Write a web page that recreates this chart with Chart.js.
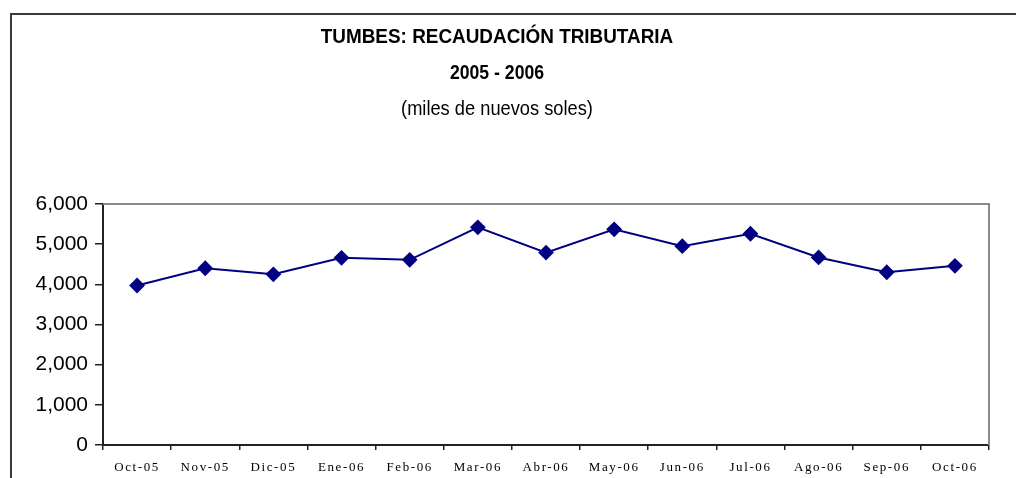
<!DOCTYPE html>
<html><head><meta charset="utf-8">
<script src="https://cdn.jsdelivr.net/npm/chart.js@4/dist/chart.umd.min.js"></script>
<style>
html,body{margin:0;padding:0;background:#fff;overflow:hidden}
#wrap{position:relative;width:1016px;height:478px}
#frame{position:absolute;left:10px;top:13px;width:1100px;height:600px;border-left:2px solid #3a3a3a;border-top:2px solid #3a3a3a;pointer-events:none}
canvas{position:absolute;left:0;top:0}
</style></head>
<body><div id="wrap"><canvas id="c" width="1016" height="478"></canvas><div id="frame"></div></div>
<script>
const categories = ['Oct-05','Nov-05','Dic-05','Ene-06','Feb-06','Mar-06','Abr-06','May-06','Jun-06','Jul-06','Ago-06','Sep-06','Oct-06'];
const recaudacion = [3970, 4400, 4250, 4660, 4610, 5420, 4790, 5370, 4950, 5260, 4670, 4300, 4460];
const yTickValues = [0, 1000, 2000, 3000, 4000, 5000, 6000];
const titleLines = ['TUMBES: RECAUDACIÓN TRIBUTARIA', '2005 - 2006', '(miles de nuevos soles)'];

const titlePlugin = {
  id: 'titles',
  afterDraw(chart) {
    const ctx = chart.ctx;
    const fam = "'Liberation Sans',Arial,sans-serif";
    const specs = [
      { text: titleLines[0], font: 'bold 21px ' + fam, y: 43, sx: 0.9 },
      { text: titleLines[1], font: 'bold 21px ' + fam, y: 79, sx: 0.84 },
      { text: titleLines[2], font: '21px ' + fam, y: 115, sx: 0.87 }
    ];
    ctx.save();
    ctx.fillStyle = '#000';
    ctx.textAlign = 'center';
    ctx.textBaseline = 'alphabetic';
    specs.forEach(s => {
      ctx.save();
      ctx.font = s.font;
      ctx.translate(497, s.y);
      ctx.scale(s.sx, 1);
      ctx.fillText(s.text, 0, 0);
      ctx.restore();
    });
    const a = chart.chartArea;
    ctx.strokeStyle = '#8a8a8a';
    ctx.lineWidth = 2;
    ctx.beginPath();
    ctx.moveTo(a.left, a.top);
    ctx.lineTo(a.right, a.top);
    ctx.lineTo(a.right, a.bottom);
    ctx.stroke();
    ctx.restore();
  },
  beforeDraw(chart) {
    const xs = chart.scales.x;
    if (!xs._lsPatched) {
      const orig = xs.drawLabels;
      xs.drawLabels = function (area) {
        const c = this.ctx;
        c.save();
        c.letterSpacing = '1.6px';
        orig.call(this, area);
        c.restore();
      };
      xs._lsPatched = true;
    }
  }
};

new Chart(document.getElementById('c'), {
  type: 'line',
  data: {
    labels: categories,
    datasets: [{
      data: recaudacion,
      borderColor: '#000080',
      backgroundColor: '#000080',
      borderWidth: 2,
      pointStyle: 'rectRot',
      pointRadius: 6.5,
      pointHoverRadius: 6.5,
      tension: 0,
      fill: false
    }]
  },
  options: {
    responsive: false,
    animation: false,
    events: [],
    layout: { padding: { top: 204, right: 27, bottom: 0, left: 0 } },
    plugins: { legend: { display: false }, title: { display: false }, tooltip: { enabled: false } },
    scales: {
      x: {
        offset: true,
        grid: { offset: true, drawOnChartArea: false, drawTicks: true, tickLength: 5, color: '#222', lineWidth: 1.5 },
        border: { display: true, color: '#222', width: 2 },
        ticks: { color: '#000', font: { family: "'Liberation Serif','Times New Roman',serif", size: 13 }, padding: 10, maxRotation: 0, autoSkip: false },
        afterFit(s) { s.height = 33; }
      },
      y: {
        min: 0, max: 6000,
        afterBuildTicks(s) { s.ticks = yTickValues.map(v => ({ value: v })); },
        grid: { drawOnChartArea: false, drawTicks: true, tickLength: 8, color: '#222', lineWidth: 1.5 },
        border: { display: true, color: '#222', width: 2 },
        ticks: { color: '#000', font: { family: "'Liberation Sans',Arial,sans-serif", size: 21 }, padding: 7,
          callback: v => v.toLocaleString('en-US') },
        afterFit(s) { s.width = 103; }
      }
    }
  },
  plugins: [titlePlugin]
});
</script>
</body></html>
